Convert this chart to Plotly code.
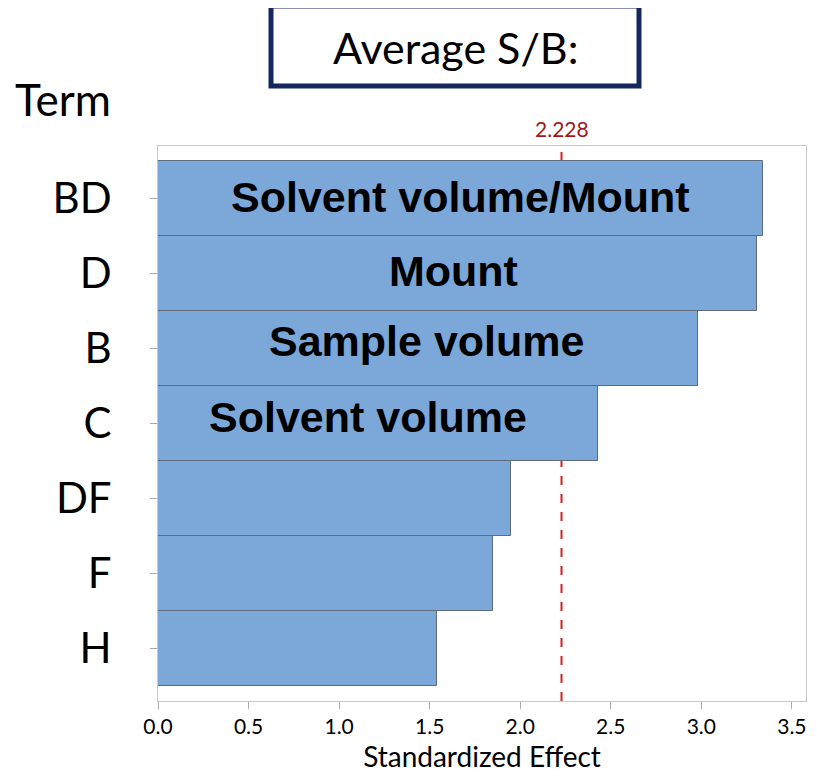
import plotly.graph_objects as go

terms = ["BD", "D", "B", "C", "DF", "F", "H"]
effects = [3.34, 3.31, 2.98, 2.43, 1.95, 1.85, 1.54]
bar_labels = ["Solvent volume/Mount", "Mount", "Sample volume", "Solvent volume", "", "", ""]
label_x = [1.67, 1.63, 1.48, 1.16, None, None, None]
label_yshift = [2, 3, 8, 7, 0, 0, 0]
ref_value = 2.228
x_ticks = [0.0, 0.5, 1.0, 1.5, 2.0, 2.5, 3.0, 3.5]
title_text = "Average S/B:"
y_title = "Term"
x_title = "Standardized Effect"

FONT = "Lato, sans-serif"

# plot area in screen pixels (for placing paper-referenced decorations)
PL, PR, PT, PB = 157, 805, 145, 700
def px(x):
    return (x - PL) / (PR - PL)
def py(y):
    return (PB - y) / (PB - PT)

fig = go.Figure()

fig.add_shape(type="line", x0=ref_value, x1=ref_value, y0=0, y1=1, xref="x", yref="paper",
              line=dict(color="#D42020", width=2, dash="dash"), layer="below")

fig.add_trace(go.Bar(
    y=terms, x=effects, orientation="h",
    marker=dict(color="#7BA7D9", line=dict(color="#5E6B7A", width=1)),
    width=1.0, hoverinfo="skip", showlegend=False,
))

for t, lab, lx, ys in zip(terms, bar_labels, label_x, label_yshift):
    if lab:
        fig.add_annotation(x=lx, y=t, xref="x", yref="y", text=f"<b>{lab}</b>", showarrow=False,
                           font=dict(family="Liberation Sans", size=43, color="black"),
                           xanchor="center", yanchor="middle", yshift=ys)

fig.add_annotation(x=ref_value, y=1, xref="x", yref="paper", text=f"{ref_value:.3f}",
                   showarrow=False, yanchor="bottom", yshift=3,
                   font=dict(family=FONT, size=21, color="#A01818"))

# title box
fig.add_shape(type="rect", xref="paper", yref="paper",
              x0=px(270), x1=px(638), y0=py(85), y1=py(5),
              line=dict(color="#14285E", width=5), fillcolor="white")
fig.add_annotation(xref="paper", yref="paper", x=px(454), y=py(46),
                   text=title_text, showarrow=False, xanchor="center", yanchor="middle",
                   font=dict(family=FONT, size=43, color="black"))
fig.add_annotation(xref="paper", yref="paper", x=px(62), y=py(98),
                   text=y_title, showarrow=False, xanchor="center", yanchor="middle",
                   font=dict(family=FONT, size=44, color="black"))

fig.update_xaxes(range=[0, 3.578], tickvals=x_ticks, ticktext=[f"{v:.1f}" for v in x_ticks],
                 ticks="outside", ticklen=7, tickcolor="#AAAAAA",
                 tickfont=dict(family=FONT, size=21, color="black"),
                 title=dict(text=x_title, font=dict(family=FONT, size=28, color="black"), standoff=10),
                 showgrid=False, zeroline=False, showline=True, linecolor="#C8C8C8", mirror=True)
fig.update_yaxes(categoryorder="array", categoryarray=terms, range=[6.7, -0.7],
                 ticks="outside", ticklen=7, tickcolor="#AAAAAA",
                 tickfont=dict(family=FONT, size=42, color="black"),
                 ticklabelstandoff=30,
                 showgrid=False, zeroline=False, showline=True, linecolor="#C8C8C8", mirror=True)

fig.update_layout(width=817, height=784, margin=dict(l=150, r=19, t=138, b=91),
                  paper_bgcolor="white", plot_bgcolor="white", bargap=0)
fig.write_html("out.html")
